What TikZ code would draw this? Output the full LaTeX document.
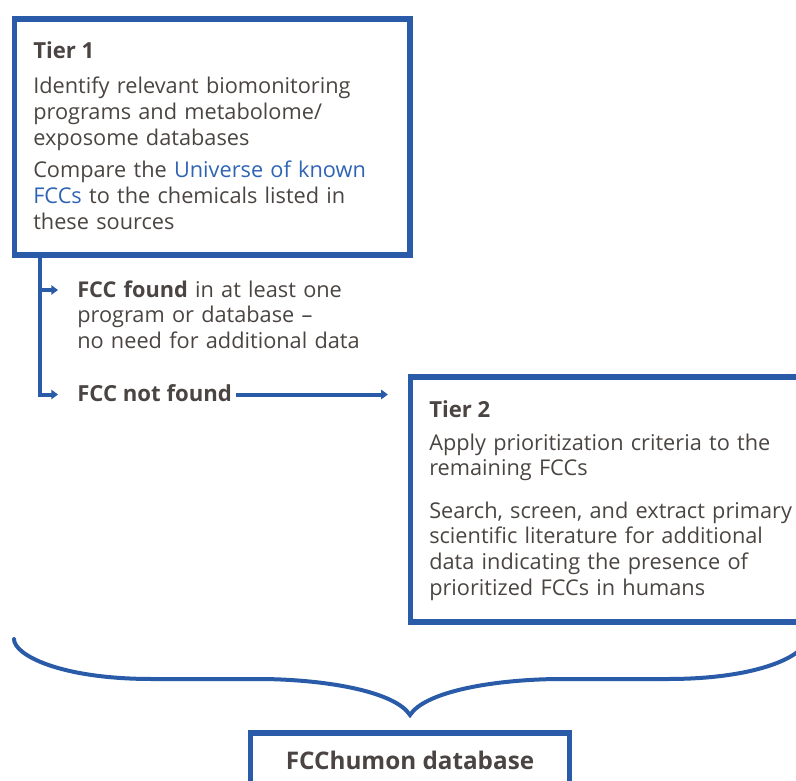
\documentclass[tikz,border=0pt]{standalone}
\usepackage{fontspec}
\setmainfont{Open Sans}
\usetikzlibrary{arrows.meta}
\definecolor{fblue}{HTML}{2A5BA8}
\definecolor{ftext}{HTML}{4A4542}
\definecolor{flink}{HTML}{2F64B4}
\begin{document}
\begin{tikzpicture}[x=0.75pt,y=-0.75pt,
  box/.style={draw=fblue,line width=4pt,rectangle,inner sep=0pt,outer sep=0pt},
  conn/.style={draw=fblue,line width=3pt,-{Triangle[length=5pt,width=7pt]}},
  bracestyle/.style={draw=fblue,line width=3pt,line cap=round},
  txt/.style={text=ftext,font=\fontsize{16.3}{19.3}\selectfont,inner sep=0pt,align=left,text width=400pt,anchor=base west},
  head/.style={text=ftext,font=\fontsize{16.6}{19.3}\selectfont\bfseries,inner sep=0pt,anchor=base west},
  dbtext/.style={text=ftext,font=\fontsize{18.2}{20}\selectfont\bfseries,inner sep=0pt,anchor=base}]
\useasboundingbox (0,0) rectangle (796,781);
\clip (0,0) rectangle (796,781);
% boxes
\node[box,minimum width=296.6pt,minimum height=177pt] (t1) at (212.25,137) {};
\node[box,minimum width=322.1pt,minimum height=183.75pt] (t2) at (625.25,499.5) {};
\node[box,minimum width=238.9pt,minimum height=72.75pt] (db) at (410,781.5) {};
% texts
\node[head] (t1h) at (33,59) {Tier 1};
\node[txt] (t1a) at (33,94) {Identify relevant biomonitoring\\programs and metabolome/\\exposome databases};
\node[txt] (t1b) at (33,178) {Compare the \textcolor{flink}{Universe of known}\\\textcolor{flink}{FCCs} to the chemicals listed in\\these sources};
\node[txt] (ff) at (77,297) {\textbf{FCC found} in at least one\\program or database –\\no need for additional data};
\node[head] (nf) at (77,401) {FCC not found};
\node[head] (t2h) at (429,417) {Tier 2};
\node[txt] (t2a) at (429,450) {Apply prioritization criteria to the\\remaining FCCs};
\node[txt] (t2b) at (429,518) {Search, screen, and extract primary\\scientific literature for additional\\data indicating the presence of\\prioritized FCCs in humans};
\node[dbtext] (dbt) at (410,769) {FCChumon database};
% connectors
\coordinate (vtop) at (39.5,255);
\coordinate (a1) at (39.5,290);
\coordinate (a1e) at (58,290);
\coordinate (a2e) at (58,394.5);
\draw[conn] (vtop) |- (a2e);
\draw[conn] (a1) -- (a1e);
\coordinate (nfa) at (236,394.5);
\draw[conn,shorten >=17pt] (nfa) -- (t2.west |- nfa);
% brace
\coordinate (bl) at (14,639);
\coordinate (tip) at (410,715);
\coordinate (br) at (806,639);
\draw[bracestyle] (bl) .. controls (14,655) and (60,679) .. (152,679) -- (264,679)
  .. controls (330,680) and (395,692) .. (tip)
  .. controls (425,692) and (490,680) .. (556,679) -- (668,679)
  .. controls (760,679) and (806,655) .. (br);
\end{tikzpicture}
\end{document}
